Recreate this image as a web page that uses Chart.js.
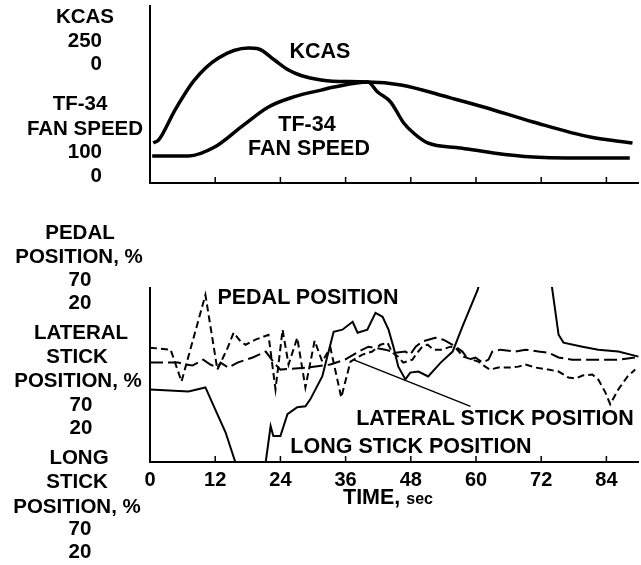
<!DOCTYPE html>
<html>
<head>
<meta charset="utf-8">
<script src="https://cdn.jsdelivr.net/npm/chart.js@4.4.0/dist/chart.umd.min.js"></script>
<style>
body { margin: 0; background: #fff; }
#wrap { position: relative; width: 641px; height: 565px; overflow: hidden;
  font-family: "Liberation Sans", Arial, sans-serif; font-weight: bold; color: #000; }
canvas { position: absolute; left: 0; }
.t { position: absolute; white-space: nowrap; line-height: 1; transform: translate(-50%, -50%); font-size: 20.5px; }
.r { transform: translate(-100%, -50%); }
.in { font-size: 21.5px; }
</style>
</head>
<body>
<div id="wrap">
  <canvas id="topChart" width="641" height="200" style="top:0"></canvas>
  <canvas id="bottomChart" width="641" height="295" style="top:270px"></canvas>

  <!-- left labels, top panel -->
  <div class="t" style="left:85px;top:16px">KCAS</div>
  <div class="t r" style="left:102px;top:40px">250</div>
  <div class="t r" style="left:102px;top:63px">0</div>
  <div class="t" style="left:80px;top:103px">TF-34</div>
  <div class="t" style="left:85px;top:128px">FAN SPEED</div>
  <div class="t r" style="left:102px;top:151px">100</div>
  <div class="t r" style="left:102px;top:175px">0</div>

  <!-- left labels, bottom panel -->
  <div class="t" style="left:80px;top:232px">PEDAL</div>
  <div class="t" style="left:79px;top:256px">POSITION, %</div>
  <div class="t" style="left:80px;top:279px">70</div>
  <div class="t" style="left:80px;top:302px">20</div>
  <div class="t" style="left:81px;top:332px">LATERAL</div>
  <div class="t" style="left:77px;top:356px">STICK</div>
  <div class="t" style="left:78px;top:380px">POSITION, %</div>
  <div class="t" style="left:81px;top:404px">70</div>
  <div class="t" style="left:81px;top:427px">20</div>
  <div class="t" style="left:79px;top:457px">LONG</div>
  <div class="t" style="left:77px;top:481px">STICK</div>
  <div class="t" style="left:77px;top:506px">POSITION, %</div>
  <div class="t" style="left:80px;top:528px">70</div>
  <div class="t" style="left:80px;top:551px">20</div>

  <!-- labels inside plots -->
  <div class="t in" style="left:320px;top:52px">KCAS</div>
  <div class="t in" style="left:307px;top:125px">TF-34</div>
  <div class="t in" style="left:309px;top:149px">FAN SPEED</div>
  <div class="t in" style="left:308px;top:298px">PEDAL POSITION</div>
  <div class="t in" style="left:495px;top:419px">LATERAL STICK POSITION</div>
  <div class="t in" style="left:411px;top:447px">LONG STICK POSITION</div>
  <div class="t in" style="left:388px;top:498px">TIME, <span style="font-size:16px">sec</span></div>
</div>

<script>
// time axis, seconds
var timeTicks = [0, 12, 24, 36, 48, 60, 72, 84];

// top panel (relative scale 0-100)
var kcasTime = [0.6, 1.6, 4.6, 8.2, 12.6, 18.1, 20.0, 22.9, 25.5, 27.8, 31.5, 36.0, 40.1, 41.9, 44.3, 46.7, 48.5, 51.1, 57.1, 63.2, 70.5, 76.7, 88.3];
var kcasValue = [22.5, 24.2, 41, 57.9, 70.2, 75.8, 75.3, 69.1, 63.5, 60.4, 57.9, 57.0, 56.7, 51.1, 45.5, 33.7, 28.1, 22.5, 19.7, 16.9, 14.6, 14.0, 14.0];

var fanTime = [0.4, 7.1, 11.9, 16.8, 21.8, 26.6, 31.5, 33.9, 40.1, 46.2, 55.3, 61.4, 70.5, 81.0, 88.8];
var fanValue = [15.2, 15.2, 20.2, 31.5, 42.7, 48.5, 52.2, 53.9, 56.7, 55.1, 47.8, 42.7, 34.3, 25.8, 22.5];

// bottom panel (relative scale 0-100)
var pedalTime = [0, 3.8, 5.8, 10.2, 12.4, 14.3, 15.4, 16.7, 17.6, 19.4, 21.8, 23.1, 24.4, 25.5, 27.1, 28.6, 30.3, 31.7, 33.2, 35.2, 36.9, 39.1, 40.9, 42.4, 43.7, 44.6, 45.7, 46.6, 48.3, 49.2, 50.1, 51.1, 52.2, 53.8, 55.3, 56.2, 57.7, 59.3, 60.4, 61.7, 62.6, 64.1, 66.3, 67.8, 69.1, 70.9, 73.3, 75.2, 77.0, 78.3, 79.6, 81.4, 82.5, 83.8, 84.7, 86.2, 87.9, 89.3];
var pedalValue = [65.3, 64.2, 46.0, 95.5, 52.8, 65.3, 73.9, 68.8, 67.0, 69.9, 72.7, 41.5, 75.6, 55.7, 71.0, 42.6, 69.3, 57.4, 65.3, 36.9, 57.4, 61.4, 63.1, 67.0, 68.2, 62.5, 60.2, 56.8, 58.5, 62.5, 65.9, 67.0, 64.2, 64.2, 65.9, 65.3, 60.2, 58.5, 57.4, 54.5, 52.8, 54.0, 54.0, 54.5, 55.7, 54.0, 52.8, 51.7, 48.3, 47.7, 49.4, 50.0, 47.2, 39.8, 33.0, 41.5, 48.9, 52.8];

var lateralTime = [0, 5.2, 6.5, 7.8, 9.8, 11.1, 12.4, 13.0, 14.4, 16.1, 18.9, 21.3, 23.1, 24.0, 29.0, 33.2, 35.9, 38.4, 40.2, 43.3, 45.2, 47.0, 47.9, 48.9, 50.1, 52.5, 54.0, 55.7, 57.5, 58.6, 59.9, 61.2, 62.3, 63.0, 64.5, 67.3, 69.1, 71.5, 73.3, 75.2, 77.7, 83.8, 86.2, 89.3, 89.9];
var lateralValue = [56.8, 56.8, 55.7, 55.1, 58.5, 55.7, 54.0, 56.8, 54.0, 56.8, 59.7, 63.1, 55.7, 52.8, 54.0, 55.7, 58.5, 63.1, 65.9, 64.2, 62.5, 63.1, 61.4, 65.9, 68.8, 71.0, 69.9, 67.0, 63.1, 58.5, 59.7, 56.8, 58.5, 63.1, 64.2, 63.1, 64.2, 63.1, 62.5, 59.7, 58.5, 58.5, 58.5, 59.7, 60.2];

// long stick leaves the scale twice (below, then above)
var longTime = [0, 7.1, 10.2, 12.0, 13.9, 15.7, 16.3, 20.4, 21.3, 22.2, 22.7, 24.0, 25.3, 27.1, 28.6, 29.5, 31.7, 33.8, 35.4, 37.3, 38.2, 40.0, 41.5, 42.8, 43.9, 44.8, 45.7, 47.0, 47.9, 49.4, 51.2, 53.5, 55.7, 57.5, 60.3, 60.8, 73.7, 73.9, 75.2, 76.1, 79.6, 82.5, 86.2, 89.9];
var longValue = [41.5, 40.3, 42.6, 30.1, 17.0, 0, -6, -6, 0, 20.5, 14.8, 14.8, 27.3, 31.3, 31.8, 35.8, 48.9, 74.4, 75.6, 80.1, 73.9, 75.6, 85.2, 83.0, 75.6, 65.9, 54.5, 47.2, 51.1, 51.7, 48.9, 56.8, 63.1, 77.3, 98.3, 104, 106, 101.7, 72.7, 68.2, 65.9, 64.2, 63.1, 60.2];

// leader from the label to the lateral stick trace
var leaderTime = [37.4, 59.0];
var leaderValue = [58.5, 31.8];

function pts(ts, vs) {
    return ts.map(function (t, i) { return { x: t, y: vs[i] }; });
}

var axisFrame = {
    id: 'axisFrame',
    afterDraw: function (chart) {
        var ctx = chart.ctx, a = chart.chartArea, x = chart.scales.x;
        ctx.save();
        ctx.strokeStyle = '#000';
        ctx.lineWidth = 2;
        ctx.beginPath();
        ctx.moveTo(a.left, a.top);
        ctx.lineTo(a.left, a.bottom);
        ctx.lineTo(a.right, a.bottom);
        ctx.stroke();
        ctx.lineWidth = 1.5;
        ctx.beginPath();
        timeTicks.slice(1).forEach(function (t) {
            var px = x.getPixelForValue(t);
            ctx.moveTo(px, a.bottom);
            ctx.lineTo(px, a.bottom - 6);
        });
        ctx.stroke();
        ctx.restore();
    }
};

var topChart = new Chart(document.getElementById('topChart').getContext('2d'), {
    type: 'line',
    data: {
        datasets: [{
            label: 'KCAS',
            data: pts(kcasTime, kcasValue),
            borderColor: '#000',
            borderWidth: 3.5,
            cubicInterpolationMode: 'monotone',
            pointRadius: 0
        }, {
            label: 'TF-34 FAN SPEED',
            data: pts(fanTime, fanValue),
            borderColor: '#000',
            borderWidth: 3.5,
            cubicInterpolationMode: 'monotone',
            pointRadius: 0
        }]
    },
    options: {
        responsive: false,
        animation: false,
        layout: { padding: { left: 150, right: 2, top: 5, bottom: 17 } },
        plugins: { legend: { display: false }, tooltip: { enabled: false } },
        scales: {
            x: { type: 'linear', min: 0, max: 90, display: false },
            y: { min: 0, max: 100, display: false }
        }
    },
    plugins: [axisFrame]
});

var bottomChart = new Chart(document.getElementById('bottomChart').getContext('2d'), {
    type: 'line',
    data: {
        datasets: [{
            label: 'PEDAL POSITION',
            data: pts(pedalTime, pedalValue),
            borderColor: '#000',
            borderWidth: 2,
            borderDash: [7, 4],
            tension: 0,
            pointRadius: 0
        }, {
            label: 'LATERAL STICK POSITION',
            data: pts(lateralTime, lateralValue),
            borderColor: '#000',
            borderWidth: 2,
            borderDash: [13, 5],
            tension: 0,
            pointRadius: 0
        }, {
            label: 'LONG STICK POSITION',
            data: pts(longTime, longValue),
            borderColor: '#000',
            borderWidth: 2,
            tension: 0,
            pointRadius: 0
        }, {
            label: 'leader',
            data: pts(leaderTime, leaderValue),
            borderColor: '#000',
            borderWidth: 1.5,
            pointRadius: 0
        }]
    },
    options: {
        responsive: false,
        animation: false,
        layout: { padding: { left: 150, right: 2, top: 17, bottom: 67 } },
        plugins: { legend: { display: false }, tooltip: { enabled: false } },
        scales: {
            x: {
                type: 'linear', min: 0, max: 90,
                afterBuildTicks: function (s) {
                    s.ticks = timeTicks.map(function (v) { return { value: v }; });
                },
                border: { display: false },
                grid: { display: false, drawTicks: false },
                ticks: {
                    color: '#000',
                    padding: 6,
                    maxRotation: 0,
                    autoSkip: false,
                    font: { family: '"Liberation Sans", Arial, sans-serif', size: 20, weight: 'bold' }
                }
            },
            y: { min: 0, max: 100, display: false }
        }
    },
    plugins: [axisFrame]
});
</script>
</body>
</html>
